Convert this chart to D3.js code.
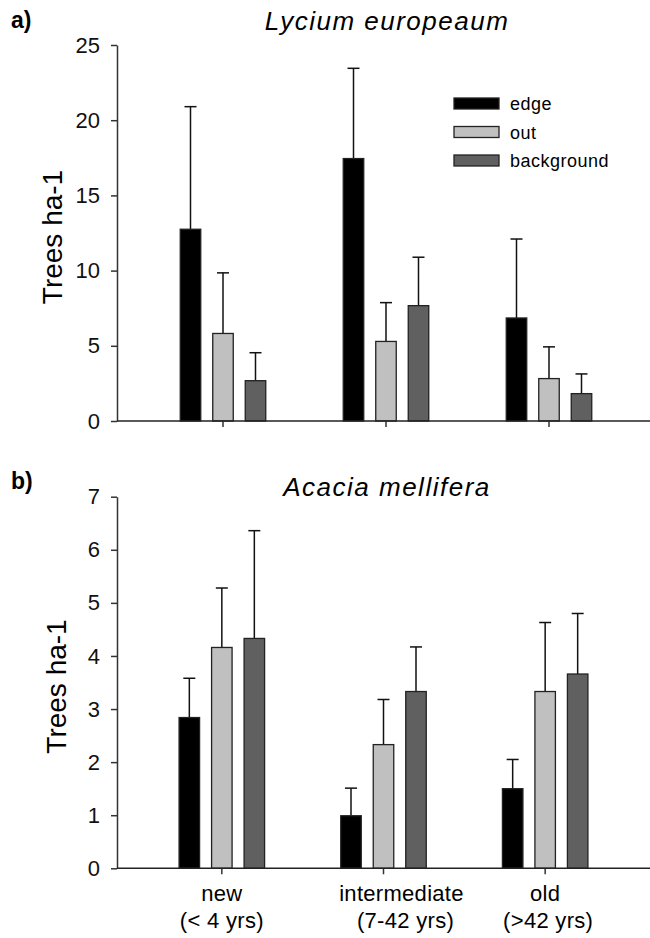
<!DOCTYPE html>
<html>
<head>
<meta charset="utf-8">
<title>Trees ha-1 by site age</title>
<script src="https://cdn.jsdelivr.net/npm/d3@7"></script>
<style>
  body { margin: 0; background: #fff; }
  svg { font-family: "Liberation Sans", Arial, Helvetica, sans-serif; }
  .axis path, .axis line { stroke: #333; stroke-width: 1.5; }
  .axis text { font-size: 22px; fill: #111; font-family: "Liberation Sans", Arial, sans-serif; }
  .bar { stroke: #222; stroke-width: 1.3; }
  .err { stroke: #111; stroke-width: 1.5; fill: none; }
</style>
</head>
<body>
<div id="chart"></div>
<script>
    // groups and series
    var categories = ['new', 'intermediate', 'old'];
    var categoryYears = ['(< 4 yrs)', '(7-42 yrs)', '(>42 yrs)'];
    var series = ['edge', 'out', 'background'];
    var seriesColors = ['#000000', '#c0c0c0', '#606060'];

    // a) Lycium europeaum, means and upper error (SE)
    var lyciumTicks = [0, 5, 10, 15, 20, 25];
    var lyciumEdge = [12.75, 17.45, 6.85];
    var lyciumOut = [5.82, 5.29, 2.82];
    var lyciumBackground = [2.68, 7.67, 1.82];
    var lyciumEdgeErr = [8.15, 6.0, 5.25];
    var lyciumOutErr = [4.03, 2.58, 2.11];
    var lyciumBackgroundErr = [1.86, 3.22, 1.31];

    // b) Acacia mellifera
    var acaciaTicks = [0, 1, 2, 3, 4, 5, 6, 7];
    var acaciaEdge = [2.84, 0.99, 1.50];
    var acaciaOut = [4.16, 2.33, 3.33];
    var acaciaBackground = [4.33, 3.33, 3.66];
    var acaciaEdgeErr = [0.74, 0.52, 0.55];
    var acaciaOutErr = [1.12, 0.85, 1.30];
    var acaciaBackgroundErr = [2.03, 0.84, 1.14];

    var width = 650, height = 938;
    var axisX = 117;
    var barWidth = 20.5;
    // nudges of the two label lines under each group (the original is not centred)
    var labelShift = [[0, 0], [18, 22], [0, 3]];

    var svg = d3.select('#chart')
            .append('svg')
            .attr('width', width)
            .attr('height', height);

    var panels = [
        {
            letter: 'a)', letterY: 28, title: 'Lycium europeaum', titleY: 30,
            ticks: lyciumTicks, top: 45, bottom: 421, xRange: [141.5, 630.5],
            labelX: 62, labels: false,
            means: [lyciumEdge, lyciumOut, lyciumBackground],
            errs: [lyciumEdgeErr, lyciumOutErr, lyciumBackgroundErr],
            legend: true
        },
        {
            letter: 'b)', letterY: 489, title: 'Acacia mellifera', titleY: 496,
            ticks: acaciaTicks, top: 496.7, bottom: 868.3, xRange: [141, 626],
            labelX: 66, labels: true,
            means: [acaciaEdge, acaciaOut, acaciaBackground],
            errs: [acaciaEdgeErr, acaciaOutErr, acaciaBackgroundErr],
            legend: false
        }
    ];

    var sub = d3.scalePoint().domain(series).range([-32.5, 32.5]);

    panels.forEach(function(p) {
        var g = svg.append('g');

        var x = d3.scaleBand().domain(categories).range(p.xRange);
        var y = d3.scaleLinear()
                .domain([0, d3.max(p.ticks)])
                .range([p.bottom, p.top]);

        function centre(i) { return x(categories[i]) + x.bandwidth() / 2; }

        // flat records for the bars
        var rows = [];
        series.forEach(function(s, si) {
            categories.forEach(function(c, ci) {
                rows.push({ s: s, si: si, ci: ci, v: p.means[si][ci], e: p.errs[si][ci] });
            });
        });

        // error bars first, bars drawn over their lower part
        var err = g.selectAll('g.errbar')
                .data(rows)
            .enter().append('g')
                .attr('class', 'errbar');
        err.append('line')
                .attr('class', 'err')
                .attr('x1', function(d) { return centre(d.ci) + sub(d.s); })
                .attr('x2', function(d) { return centre(d.ci) + sub(d.s); })
                .attr('y1', function(d) { return y(d.v); })
                .attr('y2', function(d) { return y(d.v + d.e); });
        err.append('line')
                .attr('class', 'err')
                .attr('x1', function(d) { return centre(d.ci) + sub(d.s) - 6; })
                .attr('x2', function(d) { return centre(d.ci) + sub(d.s) + 6; })
                .attr('y1', function(d) { return y(d.v + d.e); })
                .attr('y2', function(d) { return y(d.v + d.e); });

        g.selectAll('rect.bar')
                .data(rows)
            .enter().append('rect')
                .attr('class', 'bar')
                .attr('x', function(d) { return centre(d.ci) + sub(d.s) - barWidth / 2; })
                .attr('width', barWidth)
                .attr('y', function(d) { return y(d.v); })
                .attr('height', function(d) { return y(0) - y(d.v); })
                .attr('fill', function(d) { return seriesColors[d.si]; });

        // y axis
        g.append('g')
                .attr('class', 'axis')
                .attr('transform', 'translate(' + axisX + ',0)')
                .call(d3.axisLeft(y)
                        .tickValues(p.ticks)
                        .tickFormat(d3.format('d'))
                        .tickSize(6)
                        .tickSizeOuter(0)
                        .tickPadding(11));

        // x axis: ticks only, baseline runs to the page edge
        var xa = g.append('g')
                .attr('class', 'axis')
                .attr('transform', 'translate(0,' + y(0) + ')')
                .call(d3.axisBottom(x).tickSize(6).tickFormat(''));
        xa.select('.domain').remove();
        g.append('line')
                .attr('x1', axisX).attr('x2', width)
                .attr('y1', y(0)).attr('y2', y(0))
                .attr('stroke', '#222').attr('stroke-width', 1.6);

        if (p.labels) {
            categories.forEach(function(c, i) {
                g.append('text')
                        .attr('x', centre(i) + labelShift[i][0])
                        .attr('y', y(0) + 33)
                        .attr('text-anchor', 'middle')
                        .style('font-size', '22px')
                        .style('letter-spacing', '0.3px')
                        .text(c);
                g.append('text')
                        .attr('x', centre(i) + labelShift[i][1])
                        .attr('y', y(0) + 60)
                        .attr('text-anchor', 'middle')
                        .style('font-size', '22px')
                        .style('letter-spacing', '0.3px')
                        .text(categoryYears[i]);
            });
        }

        // y label
        g.append('text')
                .attr('transform', 'translate(' + p.labelX + ',' + ((p.top + p.bottom) / 2 + 4) + ') rotate(-90)')
                .attr('text-anchor', 'middle')
                .style('font-size', '28px')
                .text('Trees ha-1');

        // title and panel letter
        g.append('text')
                .attr('x', 387)
                .attr('y', p.titleY)
                .attr('text-anchor', 'middle')
                .style('font-size', '26px')
                .style('font-style', 'italic')
                .style('letter-spacing', '1.5px')
                .text(p.title);
        g.append('text')
                .attr('x', 11)
                .attr('y', p.letterY)
                .style('font-size', '23px')
                .style('font-weight', 'bold')
                .text(p.letter);

        if (p.legend) {
            var lg = g.selectAll('g.legend')
                    .data(series)
                .enter().append('g')
                    .attr('class', 'legend')
                    .attr('transform', function(d, i) { return 'translate(454,' + (98 + i * 28.5) + ')'; });
            lg.append('rect')
                    .attr('class', 'bar')
                    .attr('width', 45)
                    .attr('height', 11)
                    .attr('fill', function(d, i) { return seriesColors[i]; });
            lg.append('text')
                    .attr('x', 56)
                    .attr('y', 12)
                    .style('font-size', '18px')
                    .style('letter-spacing', '0.5px')
                    .text(function(d) { return d; });
        }
    });
</script>
</body>
</html>
